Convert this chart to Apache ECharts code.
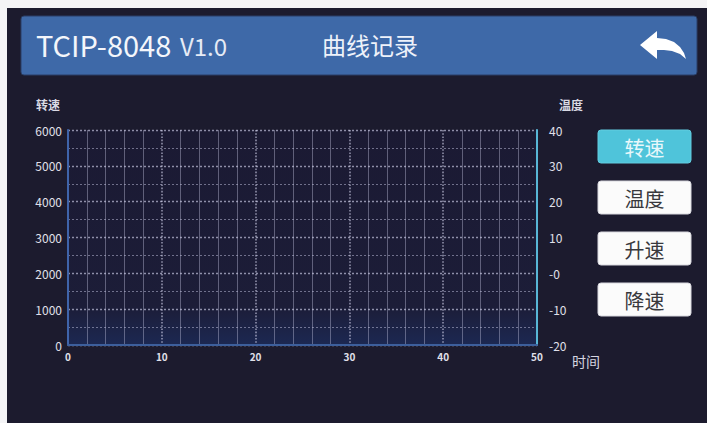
<!DOCTYPE html>
<html>
<head>
<meta charset="utf-8">
<script src="https://cdn.jsdelivr.net/npm/echarts@6/dist/echarts.min.js"></script>
<style>
html,body{margin:0;padding:0;background:#f4f4f6;width:707px;height:423px;overflow:hidden;}
#chart{position:absolute;left:0;top:0;width:707px;height:423px;}
</style>
</head>
<body>
<div id="chart"></div>
<script>
// ---- data ----
const appName = 'TCIP-8048';
const appVersion = 'V1.0';
const pageTitle = '曲线记录';
const buttonLabels = ['转速', '温度', '升速', '降速'];
const activeButton = 0;
const timeAxis = { name: '时间', min: 0, max: 50, step: 10 };
const speedAxis = { name: '转速', min: 0, max: 6000, step: 1000 };
const tempAxis = { name: '温度', min: -20, max: 40, step: 10 };
const timeData = [];   // recorded samples (none in the picture)
const speedData = [];
const tempData = [];

const FONT = '"Noto Sans CJK SC","Noto Sans",sans-serif';
const chart = echarts.init(document.getElementById('chart'), null, { renderer: 'svg' });

const gridLine = 'rgba(215,215,240,0.62)';
const minorLine = 'rgba(200,200,228,0.40)';

const graphics = [
  // dark panel
  { type: 'rect', shape: { x: 7, y: 8, width: 700, height: 415 }, style: { fill: '#1c1b2e' }, z: -10 },
  // header bar
  { type: 'rect', shape: { x: 21, y: 16, width: 676, height: 59, r: 3 }, style: { fill: '#3e69a8', stroke: '#2b3f66', lineWidth: 1 }, z: -5 },
  { type: 'text', x: 36, y: 44, style: { text: appName, fill: '#f4f6fb', font: '400 29px ' + FONT, verticalAlign: 'middle' } },
  { type: 'text', x: 180, y: 45, style: { text: appVersion, fill: '#e6ebf5', font: '400 24px ' + FONT, verticalAlign: 'middle' } },
  { type: 'text', x: 322, y: 44, style: { text: pageTitle, fill: '#eef2fa', font: '400 24px ' + FONT, verticalAlign: 'middle' } },
  // back arrow
  { type: 'polygon', shape: { points: [[640,45],[657,31],[657,38],[666,39],[674,42],[680,47],[684,53],[686,59],[680,54],[672,51],[664,50],[657,50],[657,59]] }, style: { fill: '#ffffff' } }
];

buttonLabels.forEach(function (lab, i) {
  const top = 130 + i * 51;
  const active = i === activeButton;
  graphics.push({ type: 'rect', shape: { x: 598, y: top, width: 93, height: 33, r: 3 },
    style: { fill: active ? '#4fc4da' : '#fbfbfb', stroke: active ? '#62cde0' : '#d8d8de', lineWidth: 1 } });
  graphics.push({ type: 'text', x: 644.5, y: top + 17, style: { text: lab, fill: active ? '#e8f8fb' : '#38383d',
    font: '400 20px ' + FONT, align: 'center', verticalAlign: 'middle' } });
});

chart.setOption({
  backgroundColor: '#f4f4f6',
  animation: false,
  graphic: graphics,
  grid: { left: 68, right: 170, top: 130, bottom: 78, show: true, borderWidth: 0,
    backgroundColor: new echarts.graphic.LinearGradient(0, 0, 0, 1, [
      { offset: 0, color: '#1b1a33' }, { offset: 0.82, color: '#1c1d38' }, { offset: 1, color: '#1c2852' }]) },
  xAxis: {
    type: 'value', min: timeAxis.min, max: timeAxis.max, interval: timeAxis.step,
    name: timeAxis.name, nameLocation: 'end', nameGap: 35,
    nameTextStyle: { color: '#d6d6e0', fontSize: 14, fontFamily: FONT, align: 'left', verticalAlign: 'top', padding: [9, 0, 0, 0] },
    axisLine: { show: true, lineStyle: { color: '#3d5f9c', width: 2 } },
    axisTick: { show: false },
    axisLabel: { color: '#e0e0ea', fontSize: 10, fontWeight: 'bold', fontFamily: FONT, margin: 6 },
    splitLine: { show: true, lineStyle: { color: gridLine, type: 'dotted', width: 1.6 } },
    minorTick: { show: false, splitNumber: 5 },
    minorSplitLine: { show: true, lineStyle: { color: minorLine, width: 1 } }
  },
  yAxis: [{
    type: 'value', position: 'left', min: speedAxis.min, max: speedAxis.max, interval: speedAxis.step,
    name: speedAxis.name, nameLocation: 'end', nameGap: 20,
    nameTextStyle: { color: '#dadae4', fontSize: 12, fontWeight: 'bold', fontFamily: FONT, align: 'right', padding: [0, 8, 0, 0] },
    axisLine: { show: true, lineStyle: { color: '#3f64aa', width: 2 } },
    axisTick: { show: false },
    axisLabel: { color: '#e0e0ea', fontSize: 12, fontFamily: FONT, margin: 6,
      formatter: function (v) { return String(v); } },
    splitLine: { show: true, lineStyle: { color: gridLine, type: [2, 2], width: 1.3 } },
    minorTick: { show: false, splitNumber: 2 },
    minorSplitLine: { show: true, lineStyle: { color: 'rgba(205,205,235,0.48)', type: [2, 2], width: 1 } }
  }, {
    type: 'value', position: 'right', min: tempAxis.min, max: tempAxis.max, interval: tempAxis.step,
    name: tempAxis.name, nameLocation: 'end', nameGap: 20,
    nameTextStyle: { color: '#dadae4', fontSize: 12, fontWeight: 'bold', fontFamily: FONT, align: 'left', padding: [0, 0, 0, 22] },
    axisLine: { show: true, lineStyle: { color: '#58b6d6', width: 2 } },
    axisTick: { show: false },
    axisLabel: { color: '#e0e0ea', fontSize: 12, fontFamily: FONT, margin: 12,
      formatter: function (v) { return v === 0 ? '-0' : String(v); } },
    splitLine: { show: false }
  }],
  series: [
    { name: speedAxis.name, type: 'line', yAxisIndex: 0, showSymbol: false,
      data: timeData.map(function (t, i) { return [t, speedData[i]]; }), lineStyle: { color: '#4fc4da' } },
    { name: tempAxis.name, type: 'line', yAxisIndex: 1, showSymbol: false,
      data: timeData.map(function (t, i) { return [t, tempData[i]]; }), lineStyle: { color: '#f0a040' } }
  ]
});
</script>
</body>
</html>
